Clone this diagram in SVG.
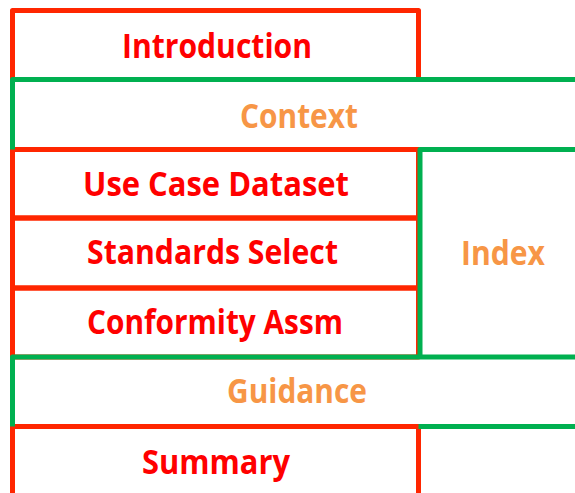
<svg xmlns="http://www.w3.org/2000/svg" width="575" height="493" viewBox="0 0 575 493">
<style>
.r{fill:none;stroke:#FF2600;stroke-width:5;stroke-linejoin:round}
.g{fill:none;stroke:#00B050;stroke-width:5;stroke-linejoin:round}
text{font-family:"Open Sans","Liberation Sans",sans-serif;font-weight:700;font-size:33.5px;text-anchor:middle}
.tr{fill:#FF0000}
.to{fill:#F79646}
</style>
<rect width="575" height="493" fill="#FFFFFF"/>
<g id="introduction">
<path class="r" d="M12.5,79.5 V10.5 H418.5 V79.5"/>
<text class="tr" x="217" y="58" textLength="190" lengthAdjust="spacingAndGlyphs">Introduction</text>
</g>
<g id="use-case-dataset">
<rect class="r" x="12.5" y="149.5" width="406" height="68.5"/>
<text class="tr" x="216" y="196" textLength="266" lengthAdjust="spacingAndGlyphs">Use Case Dataset</text>
</g>
<g id="standards-select">
<rect class="r" x="12.5" y="218" width="406" height="70"/>
<text class="tr" x="212.5" y="264" textLength="251" lengthAdjust="spacingAndGlyphs">Standards Select</text>
</g>
<g id="conformity-assm">
<rect class="r" x="12.5" y="288" width="406" height="69"/>
<text class="tr" x="215" y="334" textLength="256" lengthAdjust="spacingAndGlyphs">Conformity Assm</text>
</g>
<g id="summary">
<path class="r" d="M12.5,493 V426.5 H418.5 V493"/>
<text class="tr" x="216" y="474" textLength="148" lengthAdjust="spacingAndGlyphs">Summary</text>
</g>
<g id="context">
<path class="g" d="M12.5,149.5 V79.5 H577"/>
<text class="to" x="299" y="128" textLength="118" lengthAdjust="spacingAndGlyphs">Context</text>
</g>
<g id="index">
<path class="g" d="M420,357 V149.5 H577"/>
<text class="to" x="503" y="265" textLength="84" lengthAdjust="spacingAndGlyphs">Index</text>
</g>
<g id="guidance">
<path class="g" d="M12.5,426.5 V357 H577"/>
<path class="g" d="M418.5,426.5 H577"/>
<text class="to" x="297" y="403" textLength="140" lengthAdjust="spacingAndGlyphs">Guidance</text>
</g>
</svg>
